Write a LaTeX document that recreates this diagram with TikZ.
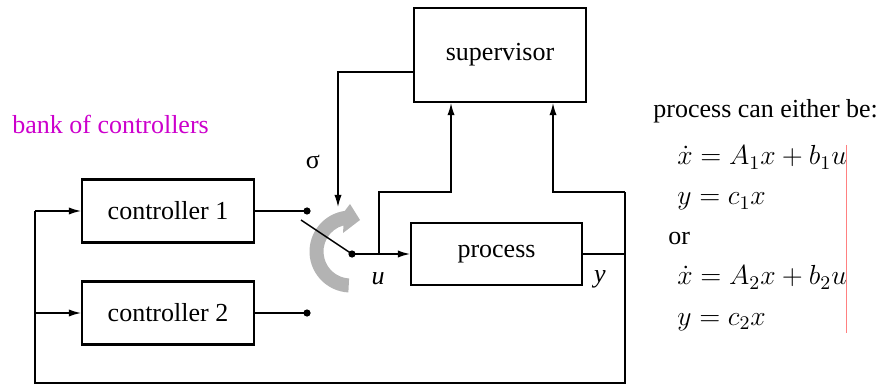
\RequirePackage{fix-cm}
\documentclass[tikz,border=0pt]{standalone}
\usepackage{fontspec}
\setmainfont{Liberation Serif}
\usetikzlibrary{arrows.meta,calc}
\definecolor{bankmag}{RGB}{204,0,204}
\definecolor{arrowgray}{RGB}{179,179,179}
\definecolor{redline}{RGB}{255,128,128}
\begin{document}
\begin{tikzpicture}[x=0.5pt,y=-0.5pt,
  every node/.style={font=\fontsize{13}{15}\selectfont},
  block/.style={draw,line width=1.1pt,inner sep=0pt,minimum width=86pt,minimum height=31.5pt},
  conn/.style={line width=0.65pt},
  arr/.style={conn,-{Latex[length=6pt,width=3.6pt]}},
  lab/.style={inner sep=0pt},
  eq/.style={inner sep=0pt,anchor=base west,font=\fontsize{13.8}{16}\selectfont}]
\useasboundingbox (0,0) rectangle (886,384);
% blocks
\node[block] (c1) at (168,211) {controller 1};
\node[block] (c2) at (168,313) {controller 2};
\node[block,minimum height=47pt] (sup) at (500,55) {supervisor};
\node[block,minimum width=85.5pt,minimum height=31pt] (proc) at (496.5,254) {process};
% coordinates
\coordinate (d1) at (307,211);
\coordinate (d2) at (307,313);
\coordinate (piv) at (352,254);
\coordinate (blade) at (301,220);
\coordinate (br) at (379,254);
\coordinate (brup) at (379,192);
\coordinate (brr) at (451,192);
\coordinate (yo) at (625,254);
\coordinate (yup) at (625,192);
\coordinate (yl) at (553,192);
\coordinate (ybot) at (625,383);
\coordinate (lbot) at (35,383);
\coordinate (l1) at (35,211);
\coordinate (l2) at (35,313);
\coordinate (s0) at (414,72);
\coordinate (s1) at (338,72);
\coordinate (s2) at (338,207);
% gray rotation arrow
\fill[arrowgray] ([shift={(350.5,251.5)}]93:41) arc[start angle=93,end angle=262,radius=41]
  -- (350,204) -- (360,220) -- (343,233) -- ([shift={(350.5,251.5)}]255:27)
  arc[start angle=255,end angle=93,radius=27] -- cycle;
% connectors
\draw[conn] (c1.east) -- (d1);
\draw[conn] (c2.east) -- (d2);
\draw[line width=0.75pt] (blade) -- (piv);
\draw[arr] (piv) -- (proc.west);
\draw[arr] (br) -- (brup) -- (brr) -- (brr |- sup.south);
\draw[conn] (proc.east) -- (yo);
\draw[conn] (yup) -- (ybot) -- (lbot) -- (l1);
\draw[arr] (l1) -- (c1.west);
\draw[arr] (l2) -- (c2.west);
\draw[arr] (yup) -- (yl) -- (yl |- sup.south);
\draw[arr] (s0) -- (s1) -- (s2);
\fill (d1) circle[radius=1.8pt];
\fill (d2) circle[radius=1.8pt];
\fill (piv) circle[radius=1.8pt];
% labels
\node[lab,text=bankmag,anchor=base west] (bank) at (12,134) {bank of controllers};
\node[lab] (sig) at (313,162) {σ};
\node[lab] (ul) at (378,279) {\textit{u}};
\node[lab] (yl2) at (600,279) {\textit{y}};
\node[lab,anchor=base west] (pc) at (653,118) {process can either be:};
\node[eq] (e1) at (677,165) {$\dot x = A_1 x + b_1 u$};
\node[eq] (e2) at (677,205) {$y = c_1 x$};
\node[lab,anchor=base west] (or) at (668,244) {or};
\node[eq] (e3) at (677,285) {$\dot x = A_2 x + b_2 u$};
\node[eq] (e4) at (677,325) {$y = c_2 x$};
\coordinate (rl1) at (846,145);
\coordinate (rl2) at (846,333);
\draw[redline,line width=0.5pt] (rl1) -- (rl2);
\end{tikzpicture}
\end{document}
